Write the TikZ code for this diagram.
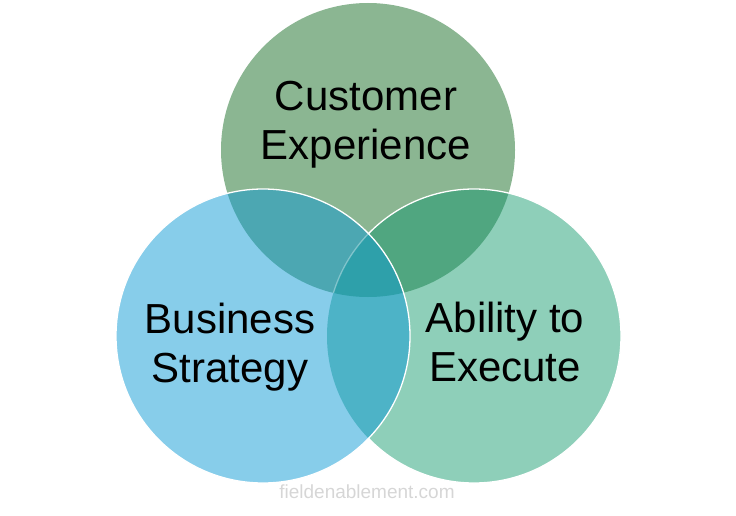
\documentclass[tikz,border=0pt]{standalone}
\usepackage{fontspec}
\setmainfont{Liberation Sans}
\definecolor{topgreen}{RGB}{139,182,146}
\definecolor{leftblue}{RGB}{135,205,234}
\definecolor{rightteal}{RGB}{142,207,185}
\definecolor{topleft}{RGB}{76,167,178}
\definecolor{topright}{RGB}{80,166,128}
\definecolor{leftright}{RGB}{77,179,199}
\definecolor{middle}{RGB}{46,160,170}
\definecolor{mark}{RGB}{214,214,214}

\begin{document}
\begin{tikzpicture}[x=1pt,y=-1pt]
    \tikzstyle{every node}=[font=\fontsize{42}{49}\selectfont,align=center,inner sep=0pt]
    \tikzstyle{rim}=[white,line width=1.3pt]
    \def\r{147pt}
    \useasboundingbox (0,0) rectangle (736,516);
    \coordinate (top) at (368,150);
    \coordinate (left) at (263,336);
    \coordinate (right) at (474,336);
    % top and right circles
    \fill[topgreen] (top) circle[radius=\r];
    \fill[rightteal] (right) circle[radius=\r];
    \begin{scope}
      \clip (top) circle[radius=\r];
      \fill[topright] (right) circle[radius=\r];
    \end{scope}
    \draw[rim] (right) circle[radius=\r];
    % left circle on top
    \fill[leftblue] (left) circle[radius=\r];
    \begin{scope}
      \clip (left) circle[radius=\r];
      \fill[topleft] (top) circle[radius=\r];
      \fill[leftright] (right) circle[radius=\r];
      \clip (top) circle[radius=\r];
      \fill[middle] (right) circle[radius=\r];
      \draw[white,opacity=.35,line width=1.3pt] (right) circle[radius=\r];
    \end{scope}
    \draw[rim] (left) circle[radius=\r];
    % labels
    \node (cust) at (366,125) {Customer\\Experience};
    \node (biz) at (230,347) {Business\\Strategy};
    \node (exec) at (505,342) {Ability to\\Execute};
    \node[font=\fontsize{19}{22}\selectfont,text=mark] (site) at (367,492) {fieldenablement.com};
  \end{tikzpicture}
\end{document}
